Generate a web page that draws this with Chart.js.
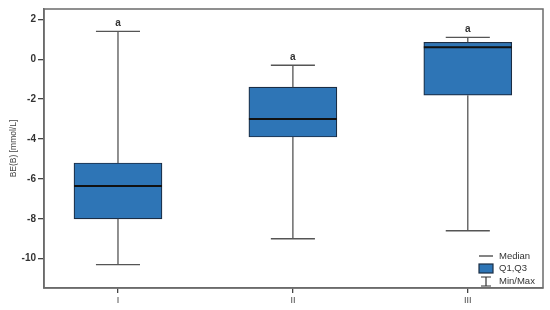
<!DOCTYPE html>
<html>
<head>
<meta charset="utf-8">
<script src="https://cdn.jsdelivr.net/npm/chart.js@4.4.0/dist/chart.umd.min.js"></script>
<style>
  html, body { margin: 0; padding: 0; background: #fff; }
  #wrap { width: 550px; height: 310px; }
</style>
</head>
<body>
<div id="wrap"><canvas id="c"></canvas></div>
<script>
// datos
const groups = ['I', 'II', 'III'];
const minVals = [-10.3, -9.0, -8.6];
const q1Vals = [-8.0, -3.9, -1.8];
const medianVals = [-6.35, -3.0, 0.6];
const q3Vals = [-5.2, -1.4, 0.85];
const maxVals = [1.4, -0.3, 1.1];
const groupLetters = ['a', 'a', 'a'];
const yTicks = [-10, -8, -6, -4, -2, 0, 2];

const boxHalf = 0.2514;   // mitad de la caja en unidades de x
const capHalf = 0.126;    // mitad del tope del bigote

// bigotes: lineas verticales y topes, separados por null
const whiskerPts = [];
groups.forEach((g, i) => {
  const x = i + 1;
  whiskerPts.push({ x: x, y: q3Vals[i] }, { x: x, y: maxVals[i] }, { x: x, y: null });
  whiskerPts.push({ x: x, y: q1Vals[i] }, { x: x, y: minVals[i] }, { x: x, y: null });
  whiskerPts.push({ x: x - capHalf, y: maxVals[i] }, { x: x + capHalf, y: maxVals[i] }, { x: x, y: null });
  whiskerPts.push({ x: x - capHalf, y: minVals[i] }, { x: x + capHalf, y: minVals[i] }, { x: x, y: null });
});

const medianPts = [];
groups.forEach((g, i) => {
  const x = i + 1;
  medianPts.push({ x: x - boxHalf, y: medianVals[i] }, { x: x + boxHalf, y: medianVals[i] }, { x: x, y: null });
});

// marco alrededor del area del grafico
const framePlugin = {
  id: 'frame',
  afterDatasetsDraw(chart) {
    const { ctx, chartArea: a } = chart;
    ctx.save();
    ctx.strokeStyle = '#6b6b6b';
    ctx.lineWidth = 1.5;
    ctx.strokeRect(a.left, a.top, a.right - a.left, a.bottom - a.top);
    ctx.restore();
  }
};

// letras sobre cada maximo
const lettersPlugin = {
  id: 'letters',
  afterDatasetsDraw(chart) {
    const { ctx, scales } = chart;
    ctx.save();
    ctx.fillStyle = '#333';
    ctx.font = 'bold 10px "Liberation Sans", Arial, sans-serif';
    ctx.textAlign = 'center';
    ctx.textBaseline = 'bottom';
    groups.forEach((g, i) => {
      const px = scales.x.getPixelForValue(i + 1);
      const py = scales.y.getPixelForValue(maxVals[i]);
      ctx.fillText(groupLetters[i], px, py - 3);
    });
    ctx.restore();
  }
};

// leyenda dentro del area, abajo a la derecha
const legendPlugin = {
  id: 'boxLegend',
  afterDraw(chart) {
    const { ctx, chartArea: a } = chart;
    const x0 = a.right - 64;
    const x1 = a.right - 50;
    const tx = a.right - 44;
    ctx.save();
    ctx.font = '9.5px "Liberation Sans", Arial, sans-serif';
    ctx.textBaseline = 'middle';
    ctx.fillStyle = '#333';
    // Median
    let y = a.bottom - 32;
    ctx.strokeStyle = '#333';
    ctx.lineWidth = 1.2;
    ctx.beginPath(); ctx.moveTo(x0, y); ctx.lineTo(x1, y); ctx.stroke();
    ctx.fillText('Median', tx, y);
    // Q1,Q3
    y = a.bottom - 19.5;
    ctx.fillStyle = '#2e75b6';
    ctx.fillRect(x0, y - 4.5, x1 - x0, 9);
    ctx.strokeStyle = '#1b2d44';
    ctx.lineWidth = 1.2;
    ctx.strokeRect(x0, y - 4.5, x1 - x0, 9);
    ctx.fillStyle = '#333';
    ctx.fillText('Q1,Q3', tx, y);
    // Min/Max
    y = a.bottom - 6.5;
    const cx = (x0 + x1) / 2;
    ctx.strokeStyle = '#333';
    ctx.beginPath();
    ctx.moveTo(cx - 5, y - 4.5); ctx.lineTo(cx + 5, y - 4.5);
    ctx.moveTo(cx, y - 4.5); ctx.lineTo(cx, y + 4.5);
    ctx.moveTo(cx - 5, y + 4.5); ctx.lineTo(cx + 5, y + 4.5);
    ctx.stroke();
    ctx.fillText('Min/Max', tx, y);
    ctx.restore();
  }
};

new Chart(document.getElementById('c'), {
  data: {
    datasets: [
      {
        type: 'bar',
        label: 'Q1,Q3',
        data: groups.map((g, i) => ({ x: i + 1, y: [q1Vals[i], q3Vals[i]] })),
        backgroundColor: '#2e75b6',
        borderColor: '#1b2d44',
        borderWidth: 1.2,
        borderSkipped: false,
        barThickness: 88,
        order: 2
      },
      {
        type: 'line',
        label: 'Min/Max',
        data: whiskerPts,
        borderColor: '#555',
        borderWidth: 1.3,
        pointRadius: 0,
        spanGaps: false,
        fill: false,
        order: 1
      },
      {
        type: 'line',
        label: 'Median',
        data: medianPts,
        borderColor: '#111',
        borderWidth: 2,
        pointRadius: 0,
        spanGaps: false,
        fill: false,
        order: 0
      }
    ]
  },
  options: {
    responsive: true,
    maintainAspectRatio: false,
    animation: false,
    layout: { padding: { top: 9, right: 7, left: 0, bottom: 0 } },
    plugins: {
      legend: { display: false },
      tooltip: { enabled: false }
    },
    scales: {
      x: {
        type: 'linear',
        min: 0.577,
        max: 3.43,
        offset: false,
        afterFit: (s) => { s.height = 22; },
        afterBuildTicks: (s) => { s.ticks = groups.map((g, i) => ({ value: i + 1 })); },
        ticks: {
          callback: (v) => groups[v - 1],
          color: '#444',
          font: { family: '"Liberation Sans", Arial, sans-serif', size: 9 },
          padding: 2,
          maxRotation: 0
        },
        grid: { offset: false, drawOnChartArea: false, drawTicks: true, tickLength: 5, color: '#444', lineWidth: 1.3 },
        border: { display: true, color: '#6b6b6b', width: 1.5 }
      },
      y: {
        min: -11.47,
        max: 2.52,
        afterFit: (s) => { s.width = 44; },
        afterBuildTicks: (s) => { s.ticks = yTicks.map((v) => ({ value: v })); },
        ticks: {
          color: '#333',
          font: { family: '"Liberation Sans", Arial, sans-serif', size: 10, weight: 'bold' },
          padding: 2
        },
        grid: { drawOnChartArea: false, drawTicks: true, tickLength: 6, color: '#444', lineWidth: 1.3 },
        border: { display: true, color: '#6b6b6b', width: 1.5 },
        title: {
          display: true,
          text: 'BE(B) [mmol/L]',
          color: '#444',
          font: { family: '"Liberation Sans", Arial, sans-serif', size: 8.5 },
          padding: { top: 9, bottom: 0 }
        }
      }
    }
  },
  plugins: [framePlugin, lettersPlugin, legendPlugin]
});
</script>
</body>
</html>
